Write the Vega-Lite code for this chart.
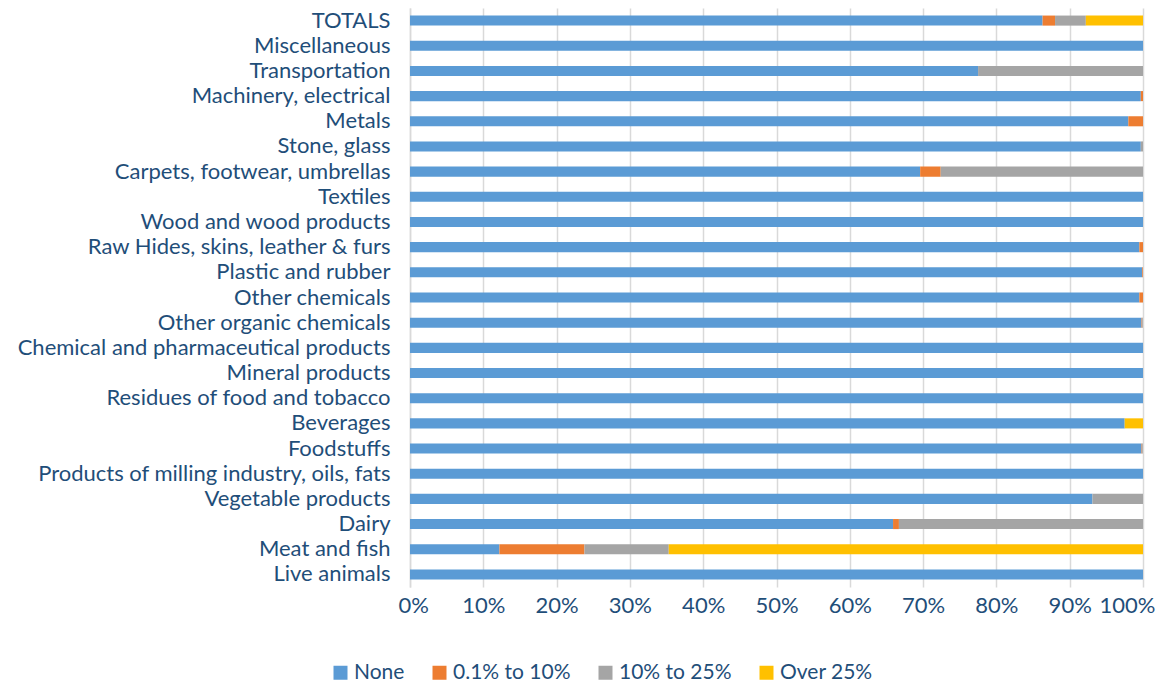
{
  "$schema": "https://vega.github.io/schema/vega-lite/v6.json",
  "autosize": {"type": "none"},
  "padding": {"left": 410, "top": 8, "right": 19, "bottom": 98},
  "width": 733,
  "height": 579,
  "config": {
    "view": {"stroke": null},
    "font": "Lato",
    "axis": {"labelColor": "#1F4E79", "labelFont": "Lato", "labelFontSize": 22, "labelLimit": 0},
    "legend": {"labelColor": "#1F4E79", "labelFont": "Lato", "labelFontSize": 21, "labelLimit": 0}
  },
  "data": {
    "values": [
      {"category": "TOTALS", "band": "None", "k": 1, "share": 86.3},
      {"category": "TOTALS", "band": "0.1% to 10%", "k": 2, "share": 1.7},
      {"category": "TOTALS", "band": "10% to 25%", "k": 3, "share": 4.2},
      {"category": "TOTALS", "band": "Over 25%", "k": 4, "share": 7.8},
      {"category": "Miscellaneous", "band": "None", "k": 1, "share": 100},
      {"category": "Transportation", "band": "None", "k": 1, "share": 77.5},
      {"category": "Transportation", "band": "10% to 25%", "k": 3, "share": 22.5},
      {"category": "Machinery, electrical", "band": "None", "k": 1, "share": 99.7},
      {"category": "Machinery, electrical", "band": "0.1% to 10%", "k": 2, "share": 0.3},
      {"category": "Metals", "band": "None", "k": 1, "share": 98.0},
      {"category": "Metals", "band": "0.1% to 10%", "k": 2, "share": 2.0},
      {"category": "Stone, glass", "band": "None", "k": 1, "share": 99.7},
      {"category": "Stone, glass", "band": "10% to 25%", "k": 3, "share": 0.3},
      {"category": "Carpets, footwear, umbrellas", "band": "None", "k": 1, "share": 69.6},
      {"category": "Carpets, footwear, umbrellas", "band": "0.1% to 10%", "k": 2, "share": 2.8},
      {"category": "Carpets, footwear, umbrellas", "band": "10% to 25%", "k": 3, "share": 27.6},
      {"category": "Textiles", "band": "None", "k": 1, "share": 100},
      {"category": "Wood and wood products", "band": "None", "k": 1, "share": 100},
      {"category": "Raw Hides, skins, leather & furs", "band": "None", "k": 1, "share": 99.5},
      {"category": "Raw Hides, skins, leather & furs", "band": "0.1% to 10%", "k": 2, "share": 0.5},
      {"category": "Plastic and rubber", "band": "None", "k": 1, "share": 99.9},
      {"category": "Plastic and rubber", "band": "0.1% to 10%", "k": 2, "share": 0.1},
      {"category": "Other chemicals", "band": "None", "k": 1, "share": 99.5},
      {"category": "Other chemicals", "band": "0.1% to 10%", "k": 2, "share": 0.5},
      {"category": "Other organic chemicals", "band": "None", "k": 1, "share": 99.8},
      {"category": "Other organic chemicals", "band": "0.1% to 10%", "k": 2, "share": 0.1},
      {"category": "Other organic chemicals", "band": "10% to 25%", "k": 3, "share": 0.1},
      {"category": "Chemical and pharmaceutical products", "band": "None", "k": 1, "share": 100},
      {"category": "Mineral products", "band": "None", "k": 1, "share": 100},
      {"category": "Residues of food and tobacco", "band": "None", "k": 1, "share": 100},
      {"category": "Beverages", "band": "None", "k": 1, "share": 97.5},
      {"category": "Beverages", "band": "Over 25%", "k": 4, "share": 2.5},
      {"category": "Foodstuffs", "band": "None", "k": 1, "share": 99.8},
      {"category": "Foodstuffs", "band": "0.1% to 10%", "k": 2, "share": 0.1},
      {"category": "Foodstuffs", "band": "10% to 25%", "k": 3, "share": 0.1},
      {"category": "Products of milling industry, oils, fats", "band": "None", "k": 1, "share": 100},
      {"category": "Vegetable products", "band": "None", "k": 1, "share": 93.1},
      {"category": "Vegetable products", "band": "10% to 25%", "k": 3, "share": 6.9},
      {"category": "Dairy", "band": "None", "k": 1, "share": 65.9},
      {"category": "Dairy", "band": "0.1% to 10%", "k": 2, "share": 0.8},
      {"category": "Dairy", "band": "10% to 25%", "k": 3, "share": 33.3},
      {"category": "Meat and fish", "band": "None", "k": 1, "share": 12.2},
      {"category": "Meat and fish", "band": "0.1% to 10%", "k": 2, "share": 11.6},
      {"category": "Meat and fish", "band": "10% to 25%", "k": 3, "share": 11.5},
      {"category": "Meat and fish", "band": "Over 25%", "k": 4, "share": 64.7},
      {"category": "Live animals", "band": "None", "k": 1, "share": 100}
    ]
  },
  "mark": {"type": "bar"},
  "encoding": {
    "y": {
      "field": "category",
      "type": "nominal",
      "sort": null,
      "title": null,
      "scale": {"paddingInner": 0.6, "paddingOuter": 0.3},
      "axis": {"ticks": false, "domainColor": "#D9D9D9", "domainWidth": 1.5, "labelPadding": 20}
    },
    "x": {
      "field": "share",
      "type": "quantitative",
      "stack": "normalize",
      "title": null,
      "axis": {
        "format": ".0%",
        "values": [0, 0.1, 0.2, 0.3, 0.4, 0.5, 0.6, 0.7, 0.8, 0.9, 1],
        "domain": false,
        "ticks": false,
        "gridColor": "#D9D9D9",
        "gridWidth": 1.5,
        "labelPadding": 8,
        "labelFlush": true,
        "labelFlushOffset": 12
      }
    },
    "color": {
      "field": "band",
      "type": "nominal",
      "scale": {
        "domain": ["None", "0.1% to 10%", "10% to 25%", "Over 25%"],
        "range": ["#5B9BD5", "#ED7D31", "#A5A5A5", "#FFC000"]
      },
      "legend": {
        "title": null,
        "orient": "none",
        "direction": "horizontal",
        "legendX": -80,
        "legendY": 654,
        "symbolType": "square",
        "symbolSize": 196,
        "symbolStrokeWidth": 0,
        "columnPadding": 24,
        "labelOffset": 3
      }
    },
    "order": {"field": "k", "type": "quantitative"}
  }
}
